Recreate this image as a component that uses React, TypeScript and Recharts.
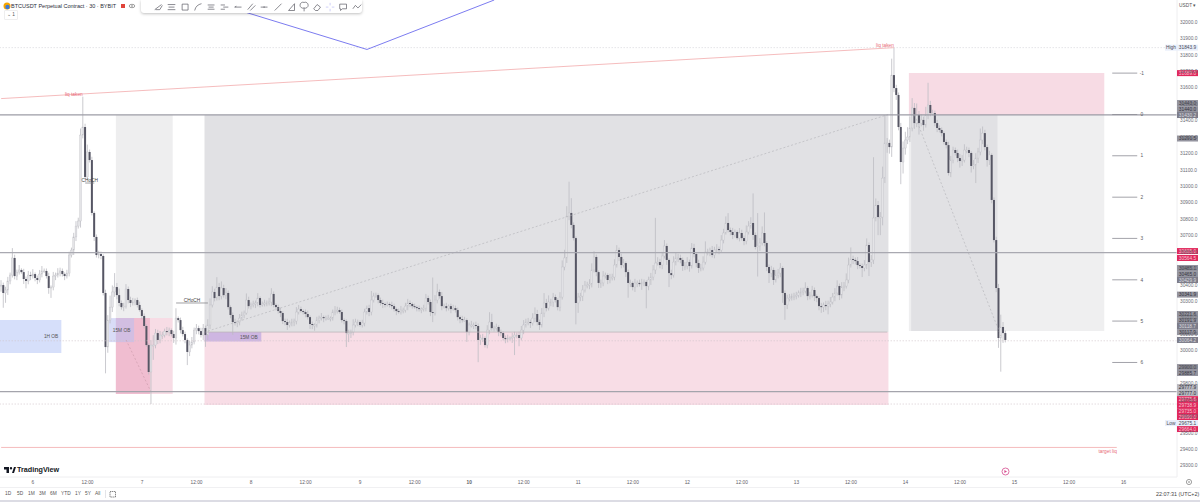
import React from 'react';
import {
  ComposedChart,
  Bar,
  Line,
  XAxis,
  YAxis,
  ReferenceArea,
  ReferenceLine,
  ReferenceDot,
} from 'recharts';

const FONT = '"Liberation Sans", Arial, sans-serif';
const SLOTS = 518;

// 30 minute closes of BTCUSDT, ten per row
const closes = [
  30399, 30351, 30369, 30424, 30460, 30564, 30454, 30478, 30491, 30478,
  30436, 30424, 30460, 30454, 30466, 30442, 30430, 30466, 30485, 30485,
  30454, 30381, 30387, 30454, 30460, 30472, 30485, 30466, 30454, 30472,
  30582, 30612, 30692, 30758, 30789, 31312, 31361, 31057, 31209, 31160,
  30838, 30692, 30582, 30588, 30576, 30351, 30022, 30186, 30265, 30357,
  30387, 30338, 30290, 30265, 30271, 30375, 30308, 30290, 30296, 30308,
  30278, 30247, 30211, 30150, 30034, 29870, 30034, 30034, 30107, 30065,
  30095, 30095, 30119, 30113, 30125, 30101, 30077, 30198, 30186, 30125,
  30101, 30065, 29992, 30034, 30053, 30125, 30137, 30119, 30095, 30137,
  30095, 30156, 30278, 30357, 30320, 30387, 30332, 30381, 30338, 30351,
  30265, 30217, 30174, 30168, 30174, 30198, 30217, 30229, 30308, 30271,
  30278, 30284, 30290, 30320, 30278, 30284, 30290, 30290, 30296, 30345,
  30278, 30265, 30241, 30229, 30180, 30174, 30156, 30168, 30174, 30180,
  30235, 30253, 30241, 30235, 30223, 30204, 30162, 30156, 30156, 30186,
  30198, 30204, 30198, 30198, 30198, 30198, 30235, 30241, 30247, 30235,
  30186, 30180, 30107, 30107, 30113, 30156, 30174, 30174, 30156, 30168,
  30235, 30259, 30235, 30308, 30332, 30338, 30308, 30290, 30284, 30278,
  30284, 30278, 30271, 30253, 30241, 30235, 30247, 30247, 30271, 30290,
  30284, 30271, 30265, 30259, 30253, 30253, 30259, 30320, 30296, 30235,
  30229, 30308, 30357, 30332, 30271, 30271, 30259, 30271, 30253, 30259,
  30247, 30204, 30192, 30186, 30186, 30113, 30156, 30156, 30156, 30150,
  30065, 30077, 30077, 30034, 30125, 30174, 30137, 30137, 30144, 30113,
  30107, 30077, 30070, 30077, 30077, 30083, 30095, 30095, 30077, 30125,
  30156, 30174, 30174, 30168, 30198, 30223, 30174, 30156, 30229, 30290,
  30259, 30296, 30296, 30326, 30308, 30265, 30326, 30509, 30564, 30819,
  30838, 30765, 30685, 30290, 30326, 30332, 30369, 30399, 30399, 30405,
  30491, 30570, 30478, 30412, 30412, 30454, 30460, 30430, 30442, 30448,
  30521, 30612, 30570, 30521, 30533, 30478, 30412, 30412, 30387, 30412,
  30412, 30405, 30412, 30418, 30393, 30430, 30448, 30491, 30533, 30539,
  30521, 30576, 30637, 30552, 30472, 30460, 30539, 30564, 30564, 30552,
  30515, 30515, 30539, 30515, 30625, 30588, 30533, 30503, 30503, 30539,
  30600, 30600, 30612, 30582, 30612, 30618, 30612, 30673, 30716, 30777,
  30734, 30722, 30704, 30722, 30685, 30716, 30685, 30667, 30722, 30758,
  30777, 30704, 30631, 30637, 30655, 30716, 30655, 30509, 30472, 30491,
  30430, 30460, 30472, 30503, 30351, 30278, 30320, 30320, 30332, 30332,
  30338, 30351, 30357, 30363, 30381, 30332, 30338, 30369, 30332, 30320,
  30271, 30265, 30278, 30271, 30284, 30296, 30326, 30351, 30393, 30338,
  30387, 30393, 30430, 30521, 30558, 30552, 30545, 30521, 30515, 30503,
  30521, 30643, 30539, 30552, 30807, 30886, 30813, 30813, 31050, 31264,
  31264, 31239, 31677, 31598, 31556, 31361, 31148, 31233, 31282, 31300,
  31355, 31477, 31385, 31434, 31385, 31404, 31373, 31434, 31495, 31446,
  31446, 31385, 31355, 31343, 31324, 31270, 31251, 31081, 31160, 31221,
  31203, 31172, 31154, 31160, 31221, 31221, 31203, 31124, 31130, 31172,
  31209, 31282, 31324, 31239, 31160, 31191, 30917, 30673, 30381, 30077,
  30144, 30107, 30065,
];

// wick length above the body, same order as closes
const upperWicks = [
  30, 15, 20, 25, 15, 60, 20, 15, 30, 10,
  20, 15, 25, 20, 30, 10, 15, 25, 30, 15,
  15, 20, 10, 25, 15, 30, 20, 15, 10, 20,
  20, 15, 25, 30, 20, 40, 185, 20, 45, 15,
  20, 10, 15, 20, 15, 10, 20, 30, 70, 40,
  85, 25, 40, 15, 20, 30, 15, 20, 25, 10,
  15, 20, 10, 15, 10, 10, 30, 60, 25, 20,
  25, 20, 15, 25, 15, 10, 20, 60, 10, 15,
  20, 15, 10, 25, 30, 15, 25, 15, 20, 25,
  15, 35, 40, 35, 20, 60, 25, 40, 20, 30,
  15, 10, 15, 20, 10, 25, 20, 15, 40, 20,
  15, 20, 15, 30, 10, 15, 20, 15, 25, 35,
  15, 10, 15, 20, 10, 15, 20, 15, 20, 15,
  30, 25, 15, 10, 15, 20, 10, 15, 10, 20,
  15, 25, 10, 15, 20, 10, 15, 30, 20, 15,
  15, 10, 10, 20, 15, 35, 20, 15, 10, 20,
  20, 15, 20, 55, 20, 15, 10, 15, 20, 10,
  15, 10, 20, 15, 10, 15, 25, 15, 20, 25,
  15, 10, 15, 10, 15, 10, 20, 25, 15, 15,
  210, 30, 50, 15, 25, 15, 20, 10, 15, 20,
  15, 15, 10, 20, 20, 10, 15, 25, 15, 20,
  15, 20, 25, 10, 30, 60, 50, 15, 20, 10,
  15, 10, 15, 20, 10, 25, 20, 15, 20, 25,
  30, 20, 25, 15, 30, 40, 25, 15, 30, 60,
  25, 40, 20, 25, 15, 10, 30, 40, 50, 60,
  190, 90, 15, 10, 25, 20, 30, 25, 20, 30,
  40, 35, 15, 10, 20, 30, 15, 10, 25, 20,
  35, 30, 15, 20, 25, 10, 15, 20, 10, 25,
  15, 20, 25, 15, 10, 20, 25, 30, 275, 30,
  20, 25, 36, 15, 10, 20, 35, 30, 25, 20,
  15, 25, 30, 15, 30, 25, 10, 20, 25, 35,
  65, 20, 15, 25, 20, 30, 15, 30, 25, 40,
  60, 15, 25, 15, 10, 30, 20, 15, 40, 30,
  35, 180, 15, 200, 30, 40, 125, 10, 15, 25,
  15, 30, 25, 30, 10, 15, 20, 25, 15, 20,
  20, 15, 25, 20, 35, 10, 20, 25, 15, 10,
  10, 20, 15, 25, 20, 30, 25, 30, 35, 15,
  30, 25, 40, 45, 70, 20, 15, 25, 10, 15,
  30, 40, 15, 30, 370, 40, 25, 30, 70, 170,
  30, 20, 100, 165, 20, 15, 25, 40, 50, 60,
  70, 60, 30, 70, 25, 35, 20, 50, 135, 25,
  20, 15, 20, 15, 15, 10, 15, 20, 25, 20,
  15, 20, 25, 30, 35, 20, 15, 10, 30, 30,
  25, 70, 40, 20, 15, 25, 10, 15, 20, 25,
  75, 30, 15,
];

// wick length below the body, same order as closes
const lowerWicks = [
  40, 90, 60, 30, 20, 15, 20, 25, 15, 10,
  30, 45, 20, 25, 15, 20, 25, 15, 20, 10,
  15, 35, 60, 20, 25, 15, 20, 15, 25, 15,
  20, 15, 30, 25, 15, 40, 20, 15, 20, 15,
  15, 25, 15, 20, 20, 15, 160, 35, 20, 30,
  30, 25, 20, 15, 25, 15, 20, 25, 15, 20,
  15, 10, 20, 15, 10, 15, 195, 90, 20, 25,
  20, 25, 15, 20, 25, 15, 30, 40, 15, 20,
  15, 20, 80, 25, 20, 15, 25, 20, 15, 30,
  72, 30, 25, 15, 20, 15, 25, 20, 15, 25,
  15, 20, 78, 15, 25, 20, 15, 20, 10, 15,
  20, 15, 25, 20, 15, 10, 15, 20, 15, 25,
  15, 20, 15, 25, 18, 20, 30, 15, 20, 25,
  20, 15, 10, 15, 20, 15, 30, 25, 35, 15,
  20, 15, 25, 15, 10, 20, 15, 20, 15, 10,
  15, 20, 85, 55, 30, 20, 15, 25, 10, 15,
  20, 15, 25, 20, 15, 10, 20, 15, 25, 15,
  10, 15, 20, 15, 25, 10, 15, 20, 15, 25,
  20, 15, 10, 20, 15, 25, 15, 20, 15, 25,
  55, 15, 20, 15, 25, 15, 20, 15, 25, 10,
  15, 20, 25, 15, 10, 60, 20, 15, 25, 20,
  135, 30, 25, 15, 20, 25, 15, 20, 15, 25,
  20, 15, 25, 20, 15, 30, 110, 20, 50, 15,
  25, 15, 20, 30, 15, 25, 20, 30, 15, 25,
  20, 15, 25, 30, 15, 20, 25, 15, 20, 30,
  25, 20, 15, 130, 60, 25, 30, 15, 20, 25,
  20, 15, 25, 30, 30, 20, 15, 25, 20, 15,
  20, 15, 25, 20, 15, 30, 90, 25, 20, 30,
  25, 15, 35, 20, 135, 25, 30, 20, 25, 15,
  20, 25, 15, 30, 85, 25, 15, 20, 25, 20,
  30, 25, 20, 35, 15, 20, 25, 30, 20, 15,
  15, 20, 25, 15, 20, 15, 25, 15, 20, 10,
  15, 20, 25, 15, 10, 20, 15, 25, 20, 15,
  15, 30, 15, 180, 30, 15, 20, 25, 60, 25,
  30, 15, 20, 25, 60, 90, 25, 20, 15, 25,
  20, 15, 25, 20, 15, 25, 20, 15, 30, 25,
  25, 35, 30, 25, 50, 20, 15, 25, 15, 30,
  20, 25, 15, 20, 15, 25, 20, 25, 15, 55,
  20, 25, 85, 30, 25, 20, 110, 110, 50, 30,
  60, 40, 60, 25, 30, 20, 135, 70, 40, 25,
  30, 20, 35, 25, 70, 20, 35, 15, 25, 20,
  15, 20, 25, 15, 20, 15, 20, 15, 25, 20,
  15, 25, 40, 30, 15, 20, 25, 40, 20, 110,
  30, 20, 25, 20, 40, 30, 20, 15, 25, 60,
  205, 60, 15,
];

const priceTicks = [
  32000, 31900, 31800, 31700, 31600, 31500, 31400, 31300, 31200, 31100, 31000, 30900, 30800, 30700,
  30600, 30500, 30400, 30300, 30200, 30100, 30000, 29900, 29800, 29700, 29600, 29500, 29400, 29300,
];
const timeTicks = [14, 38, 62, 86, 110, 134, 158, 182, 206, 230, 254, 278, 302, 326, 350, 374, 398, 422, 446, 470, 494];
const timeLabels = ['6', '12:00', '7', '12:00', '8', '12:00', '9', '12:00', '10', '12:00', '11', '12:00', '12', '12:00', '13', '12:00', '14', '12:00', '15', '12:00', '16'];
const rangeButtons = ['1D', '5D', '1M', '3M', '6M', 'YTD', '1Y', '5Y', 'All'];

// drawn lines as [slot, price] anchors
const blueLine = [[90, 32134], [161, 31833], [217, 32134]];
const riseDash = [[91, 30119], [391, 31440]];
const fallDash = [[402, 31434], [440, 30089]];
const pinkDash = [[55, 30065], [66, 29748]];

// price tags on the right axis: text, where the tag sits, kind
const tagTexts = ['31689.0', '31443.0', '31440.0', '31430.2', '31291.5', '30605.0', '30564.5', '30485.1', '30465.0', '30429.9', '30341.9', '30221.6', '30191.9', '30118.7', '30117.9', '30064.2', '29900.0', '29885.7', '29777.9', '29777.0', '29775.6', '29738.9', '29735.0', '29690.0', '29664.0'];
const tagSpots = [31689, 31507, 31470, 31434, 31291, 30606, 30564, 30503, 30466, 30430, 30341, 30223, 30186, 30150, 30113, 30065, 29900, 29864, 29778, 29742, 29705, 29669, 29632, 29596, 29523];
const tagKinds = ['red', 'grey', 'grey', 'dark', 'grey', 'red', 'red', 'grey', 'grey', 'dark', 'grey', 'grey', 'grey', 'dark', 'grey', 'dark', 'grey', 'grey', 'pale', 'pale', 'red', 'red', 'red', 'red', 'red'];

const fibLevels = [31689, 31437, 31186, 30934, 30683, 30431, 30180, 29928];
const fibNames = ['-1', '0', '1', '2', '3', '4', '5', '6'];

const rows = Array.from({ length: SLOTS }, (_, slot) => {
  const row: any = { slot };
  if (slot < closes.length) {
    const close = closes[slot];
    const open = slot > 0 ? closes[slot - 1] : close;
    const high = Math.max(open, close) + upperWicks[slot];
    const low = Math.min(open, close) - lowerWicks[slot];
    Object.assign(row, { open, close, high, low, range: [low, high] });
  }
  const pick = (key: string, pts: number[][]) => {
    const hit = pts.find((p) => p[0] === slot);
    if (hit) row[key] = hit[1];
  };
  pick('blue', blueLine);
  pick('rise', riseDash);
  pick('fall', fallDash);
  pick('pink', pinkDash);
  return row;
});

function Candle(props: any) {
  const { x, y, width, height, payload } = props;
  if (!payload || !payload.range) return null;
  const mid = x + width / 2;
  const k = Math.abs(height) / (payload.high - payload.low);
  const yOpen = y + (payload.high - payload.open) * k;
  const yClose = y + (payload.high - payload.close) * k;
  const up = payload.close >= payload.open;
  const top = Math.min(yOpen, yClose);
  const h = Math.max(Math.abs(yClose - yOpen), 1);
  return (
    <g>
      <line x1={mid} x2={mid} y1={y} y2={y + Math.abs(height)} stroke="#bdbdc3" strokeWidth={0.8} />
      {up ? (
        <rect x={mid - 0.9} y={top} width={1.8} height={h} fill="#e4e4e7" stroke="#c2c2c8" strokeWidth={0.4} />
      ) : (
        <rect x={mid - 1} y={top} width={2} height={h} fill="#565664" />
      )}
    </g>
  );
}

const note = (text: string, color = '#555', anchor = 'middle', size = 4.8) => (p: any) => (
  <text x={p.cx} y={p.cy} dy={1.7} textAnchor={anchor} fontSize={size} fontFamily={FONT} fill={color}>
    {text}
  </text>
);

const tagColors: any = {
  red: ['#e0285c', '#f6c6d4'],
  grey: ['#94949f', '#34343e'],
  dark: ['#7d7d8a', '#d8d8de'],
  pale: ['#b7b7bf', '#2c2c35'],
  soft: ['#e9effb', '#4a4a55'],
};

const tag = (text: string, kind: string) => (p: any) => {
  const [fill, ink] = tagColors[kind];
  return (
    <g>
      <rect x={1177} y={p.cy - 3} width={21} height={6} fill={fill} />
      <text x={1187.5} y={p.cy} dy={1.7} textAnchor="middle" fontSize={4.8} fontFamily={FONT} fill={ink}>
        {text}
      </text>
    </g>
  );
};

const sideTag = (text: string) => (p: any) => (
  <g>
    <rect x={1165} y={p.cy - 3} width={12} height={6} fill="#e9effb" />
    <text x={1171} y={p.cy} dy={1.7} textAnchor="middle" fontSize={4.8} fontFamily={FONT} fill="#4a4a55">
      {text}
    </text>
  </g>
);

function TimeTick(props: any) {
  const { x, y, payload } = props;
  const label = timeLabels[timeTicks.indexOf(payload.value)];
  return (
    <text x={x} y={y - 1.5} textAnchor="middle" fontSize={4.8} fontFamily={FONT} fill="#5f6068" fontWeight={label === '10' ? 700 : 400}>
      {label}
    </text>
  );
}

const icons = [
  'M2 9 L10 3 M3 9 H8 L11 4',
  'M2 3 H11 M3 6 H10 M2 9 H11',
  'M2.5 2.5 H9.5 V9.5 H2.5 Z',
  'M2 10 C3 5 6 3 10 2',
  'M2 3.5 H10 M2 8.5 H10 M3 6 H9',
  'M2 3.5 H7 M5 6 H11 M2 8.5 H7',
  'M2 6 H10 M2 6 L4 5',
  'M2 9 L8 2 M5 10 L11 4',
  'M2 6 H10 M6 5 V7',
  'M2 10 L10 2',
  'M3 10 H10 L10 2 Z',
  'M6 7 A3.5 3.5 0 1 0 6 0.5 A3.5 3.5 0 1 0 6 7 M6 7 V11',
  'M2 8 L6 3 L10 6 L7 10 H4 Z',
  'M6 1 V4 M6 8 V11 M1 6 H4 M8 6 H11',
  'M2 2.5 H10 V8 H5 L3 10 V8 H2 Z',
  'M1 8 L4 4 L7 7 L11 3',
];
const iconX = [150, 163, 177, 190, 203, 216, 230, 243, 256, 270, 283, 296, 309, 322, 335, 349];

const absText = (left: number, top: number, size: number, color: string, extra: any = {}) => ({
  position: 'absolute' as const,
  left,
  top,
  fontSize: size,
  lineHeight: '8px',
  color,
  whiteSpace: 'nowrap' as const,
  fontFamily: FONT,
  ...extra,
});

export default function App() {
  const rangeX = [5, 17, 28, 39, 50, 61, 75, 85, 95];
  return (
    <div style={{ position: 'absolute', left: 0, top: 0, width: 1200, height: 502, background: '#fff', overflow: 'hidden' }}>
      <ComposedChart
        width={1200}
        height={502}
        data={rows}
        margin={{ top: 0, right: 0, left: 0, bottom: 15 }}
        barCategoryGap={0}
      >
        <XAxis
          dataKey="slot"
          type="category"
          ticks={timeTicks}
          interval={0}
          height={10}
          tick={<TimeTick />}
          tickLine={false}
          axisLine={{ stroke: '#eeeef0' }}
        />
        <YAxis
          orientation="right"
          width={23}
          domain={[29231, 32134]}
          allowDataOverflow
          ticks={priceTicks}
          interval={0}
          tickLine={false}
          tickSize={0}
          tickMargin={3}
          axisLine={{ stroke: '#eeeef0' }}
          tick={{ fontSize: 4.8, fill: '#6b6c75', fontFamily: FONT }}
          tickFormatter={(v: number) => v.toFixed(1)}
        />

        <ReferenceArea x1={0} x2={26} y1={30186} y2={29986} fill="#d6dffa" fillOpacity={1} stroke="none" />
        <ReferenceArea x1={51} x2={75} y1={31434} y2={30198} fill="#eeeeef" fillOpacity={1} stroke="none" />
        <ReferenceArea x1={51} x2={75} y1={30198} y2={29736} fill="#f7dce5" fillOpacity={1} stroke="none" />
        <ReferenceArea x1={51} x2={65} y1={30198} y2={29736} fill="#eeb9cd" fillOpacity={0.9} stroke="none" />
        <ReferenceArea x1={48} x2={58} y1={30198} y2={30052} fill="#b9bff0" fillOpacity={0.55} stroke="none" />
        <ReferenceArea x1={90} x2={390} y1={31434} y2={30113} fill="#e1e1e4" fillOpacity={1} stroke="none" />
        <ReferenceArea x1={90} x2={390} y1={30113} y2={29669} fill="#f8dde6" fillOpacity={1} stroke="none" />
        <ReferenceArea x1={90} x2={114} y1={30113} y2={30055} fill="#ceb6e2" fillOpacity={1} stroke="none" />
        <ReferenceArea x1={400} x2={485} y1={31689} y2={31434} fill="#f7dbe4" fillOpacity={1} stroke="none" />
        <ReferenceArea x1={400} x2={485} y1={31434} y2={30119} fill="#efeff0" fillOpacity={1} stroke="none" />
        <ReferenceArea x1={401} x2={438} y1={31434} y2={30119} fill="#e1e1e4" fillOpacity={1} stroke="none" />

        <ReferenceLine segment={[{ x: 90, y: 30113 }, { x: 390, y: 30113 }]} stroke="#bdb5ba" strokeWidth={0.8} />
        <ReferenceLine y={31844} stroke="#d2d2d6" strokeWidth={0.6} strokeDasharray="1.5 1.5" />
        <ReferenceLine y={30060} stroke="#d2c4cb" strokeWidth={0.6} strokeDasharray="1.5 1.5" />
        <ReferenceLine y={29675} stroke="#d2c4cb" strokeWidth={0.6} strokeDasharray="1.5 1.5" />

        <Bar dataKey="range" shape={<Candle />} isAnimationActive={false} />

        <Line dataKey="blue" stroke="#7c7cf0" strokeWidth={1} dot={false} connectNulls isAnimationActive={false} />
        <Line dataKey="rise" stroke="#b0b0b5" strokeWidth={0.6} strokeDasharray="2 2" dot={false} connectNulls isAnimationActive={false} />
        <Line dataKey="fall" stroke="#b0b0b5" strokeWidth={0.6} strokeDasharray="2 2" dot={false} connectNulls isAnimationActive={false} />
        <Line dataKey="pink" stroke="#c898a8" strokeWidth={0.6} strokeDasharray="2 2" dot={false} connectNulls isAnimationActive={false} />

        <ReferenceLine segment={[{ x: 0, y: 31534 }, { x: 393, y: 31844 }]} stroke="#f4b4b6" strokeWidth={0.9} />
        <ReferenceLine y={31435} stroke="#9c9ca6" strokeWidth={1.2} />
        <ReferenceLine y={30596} stroke="#a9a9b1" strokeWidth={1.2} />
        <ReferenceLine y={29750} stroke="#a4a4ac" strokeWidth={1.2} />
        <ReferenceLine segment={[{ x: 0, y: 29411 }, { x: 491, y: 29411 }]} stroke="#f4b4b6" strokeWidth={0.9} />
        <ReferenceLine segment={[{ x: 77, y: 30290 }, { x: 91, y: 30290 }]} stroke="#77777d" strokeWidth={0.7} />
        <ReferenceLine segment={[{ x: 37, y: 31020 }, { x: 41, y: 31020 }]} stroke="#77777d" strokeWidth={0.7} />

        {fibLevels.map((lvl, i) => (
          <ReferenceLine key={'f' + i} segment={[{ x: 489, y: lvl }, { x: 500, y: lvl }]} stroke="#8c8c94" strokeWidth={0.8} />
        ))}
        {fibLevels.map((lvl, i) => (
          <ReferenceDot key={'n' + i} x={502} y={lvl} ifOverflow="visible" shape={note(fibNames[i], '#5a5a62', 'middle')} />
        ))}

        <ReferenceDot x={32} y={31562} ifOverflow="visible" shape={note('liq taken', '#e86a78')} />
        <ReferenceDot x={389} y={31860} ifOverflow="visible" shape={note('liq taken', '#e86a78')} />
        <ReferenceDot x={487} y={29390} ifOverflow="visible" shape={note('target liq', '#e86a78')} />
        <ReferenceDot x={22} y={30085} ifOverflow="visible" shape={note('1H OB')} />
        <ReferenceDot x={53} y={30125} ifOverflow="visible" shape={note('15M OB')} />
        <ReferenceDot x={109} y={30083} ifOverflow="visible" shape={note('15M OB')} />
        <ReferenceDot x={39} y={31038} ifOverflow="visible" shape={note('CHoCH', '#444')} />
        <ReferenceDot x={84} y={30308} ifOverflow="visible" shape={note('CHoCH', '#444')} />

        {tagTexts.map((t, i) => (
          <ReferenceDot key={t} x={517} y={tagSpots[i]} ifOverflow="visible" shape={tag(t, tagKinds[i])} />
        ))}
        <ReferenceDot x={517} y={31844} ifOverflow="visible" shape={tag('31843.9', 'soft')} />
        <ReferenceDot x={517} y={31844} ifOverflow="visible" shape={sideTag('High')} />
        <ReferenceDot x={517} y={29559} ifOverflow="visible" shape={tag('29675.1', 'soft')} />
        <ReferenceDot x={517} y={29559} ifOverflow="visible" shape={sideTag('Low')} />
      </ComposedChart>

      {/* pane title */}
      <svg style={{ position: 'absolute', left: 3, top: 2 }} width={8} height={8}>
        <circle cx={4} cy={4} r={3.5} fill="#f7a600" />
        <circle cx={4.5} cy={5} r={2.2} fill="#3d7bd9" />
      </svg>
      <div style={absText(11, 2, 5.5, '#2a2e39')}>BTCUSDT Perpetual Contract · 30 · BYBIT</div>
      <svg style={{ position: 'absolute', left: 120, top: 3 }} width={20} height={7}>
        <rect x={1} y={1} width={4} height={4} fill="#e0443a" />
        <ellipse cx={12} cy={3} rx={2.8} ry={1.7} fill="none" stroke="#777" strokeWidth={0.7} />
        <circle cx={12} cy={3} r={0.8} fill="#777" />
      </svg>
      <div style={absText(4, 10, 4.8, '#555', { border: '1px solid #eee', padding: '0 2px', borderRadius: 1 })}>⌄ 1</div>

      {/* drawing toolbar */}
      <div style={{ position: 'absolute', left: 141, top: 0, width: 221, height: 13, background: '#fff', borderRadius: '0 0 3px 3px', boxShadow: '0 1px 3px rgba(0,0,0,0.25)' }}>
        <svg width={221} height={13}>
          {iconX.map((x, i) => (
            <path key={i} transform={`translate(${x - 141 + 3},1) scale(0.85)`} d={icons[i]} fill="none" stroke={i === 13 ? '#b9b9f5' : '#55555f'} strokeWidth={0.8} />
          ))}
        </svg>
      </div>

      {/* currency */}
      <div style={absText(1179, 2, 4.8, '#555')}>USDT ▾</div>

      {/* logo */}
      <svg style={{ position: 'absolute', left: 4, top: 467 }} width={12} height={7}>
        <path d="M0 0 H5 V6 H2.5 V2.5 H0 Z M7 0 A1.2 1.2 0 1 1 7 2.4 A1.2 1.2 0 1 1 7 0 M8 6 L10 0 H12 L10 6 Z" fill="#131722" />
      </svg>
      <div style={absText(17, 466, 7.2, '#131722', { fontWeight: 700 })}>TradingView</div>

      {/* earnings mark and scale settings */}
      <svg style={{ position: 'absolute', left: 1001, top: 467 }} width={9} height={9}>
        <circle cx={4.5} cy={4.5} r={3.5} fill="#fff" stroke="#d64d8f" strokeWidth={0.8} />
        <path d="M3.4 3 L6 4.5 L3.4 6 Z" fill="#d64d8f" />
      </svg>
      <svg style={{ position: 'absolute', left: 1185, top: 478 }} width={8} height={8}>
        <circle cx={4} cy={4} r={2.6} fill="none" stroke="#777" strokeWidth={0.7} />
        <circle cx={4} cy={4} r={0.8} fill="#777" />
      </svg>

      {/* bottom bar */}
      <div style={{ position: 'absolute', left: 0, top: 487, width: 1200, height: 1, background: '#f0f0f2' }} />
      <div style={{ position: 'absolute', left: 0, top: 500, width: 1200, height: 2, background: '#dcdce4' }} />
      {rangeButtons.map((b, i) => (
        <div key={b} style={absText(rangeX[i], 490, 4.8, '#555')}>{b}</div>
      ))}
      <div style={{ position: 'absolute', left: 105, top: 490, width: 1, height: 8, background: '#e4e4e8' }} />
      <svg style={{ position: 'absolute', left: 109, top: 490 }} width={8} height={8}>
        <rect x={1} y={1.5} width={5.5} height={5.5} fill="none" stroke="#555" strokeWidth={0.7} strokeDasharray="1.4 0.6" />
      </svg>
      <div style={absText(1156, 490, 5.4, '#444')}>22:07:31 (UTC+2)</div>
    </div>
  );
}
